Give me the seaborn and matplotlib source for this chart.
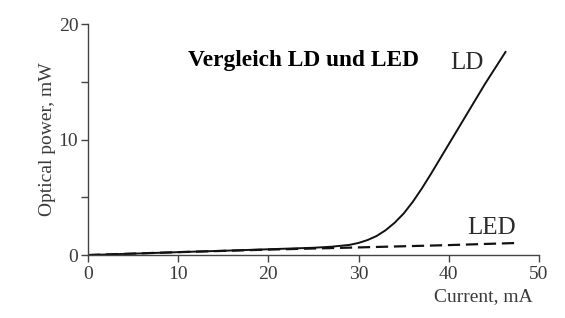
import matplotlib
matplotlib.use("Agg")
import matplotlib.pyplot as plt
import seaborn as sns
import pandas as pd
from matplotlib.ticker import MultipleLocator

# Data
ld_current = [0, 5, 10, 15, 20, 25, 27, 29, 30, 31, 32, 33, 34, 35, 36, 37, 38, 39, 40, 42, 44, 46.3]
ld_power = [0, 0.12, 0.25, 0.37, 0.5, 0.63, 0.72, 0.88, 1.05, 1.3, 1.65, 2.15, 2.8, 3.6, 4.6, 5.75, 7.0, 8.3, 9.6, 12.2, 14.8, 17.6]
led_current = [0, 10, 20, 30, 40, 47.8]
led_power = [0, 0.25, 0.47, 0.66, 0.86, 1.05]
x_ticks = [0, 10, 20, 30, 40, 50]
y_ticks = [0, 10, 20]

sns.set_theme(style="ticks")
plt.rcParams["font.family"] = ["Liberation Serif", "DejaVu Serif"]

ld = pd.DataFrame({"current": ld_current, "power": ld_power})
led = pd.DataFrame({"current": led_current, "power": led_power})

fig = plt.figure(figsize=(5.65, 3.18), dpi=100)
ax = fig.add_axes([0.1558, 0.198, 0.7982, 0.7265])

sns.lineplot(data=ld, x="current", y="power", ax=ax, color="#111111", linewidth=1.4)
sns.lineplot(data=led, x="current", y="power", ax=ax, color="#111111", linewidth=1.6,
             linestyle=(0, (5.5, 2.6)))

ax.set_xlim(0, 50)
ax.set_ylim(0, 20)
ax.set_xticks(x_ticks)
ax.set_yticks(y_ticks)
ax.yaxis.set_minor_locator(MultipleLocator(5))
for s in ["top", "right"]:
    ax.spines[s].set_visible(False)
for s in ["left", "bottom"]:
    ax.spines[s].set_color("#444444")
    ax.spines[s].set_linewidth(1.0)
ax.tick_params(axis="both", which="both", length=5, width=1.0, color="#444444",
               labelsize=14, labelcolor="#3a3a3a")
ax.tick_params(axis="x", pad=3)
ax.tick_params(axis="y", pad=2)

ax.set_xlabel("Current, mA", fontsize=14, color="#3a3a3a", ha="right")
ax.xaxis.set_label_coords((533 - 88) / 451, -0.145)
ax.set_ylabel("Optical power, mW", fontsize=14, color="#3a3a3a")
ax.yaxis.set_label_coords(-0.071, 0.5)

ax.text(42.0, 16.6, "LD", fontsize=18, color="#2a2a2a", ha="center", va="center")
ax.text(44.7, 2.3, "LED", fontsize=18, color="#2a2a2a", ha="center", va="center")
ax.text(0.477, 0.844, "Vergleich LD und LED", transform=ax.transAxes, fontsize=16.8,
        fontweight="bold", color="black", ha="center", va="center")

fig.savefig("out.png", dpi=100)
